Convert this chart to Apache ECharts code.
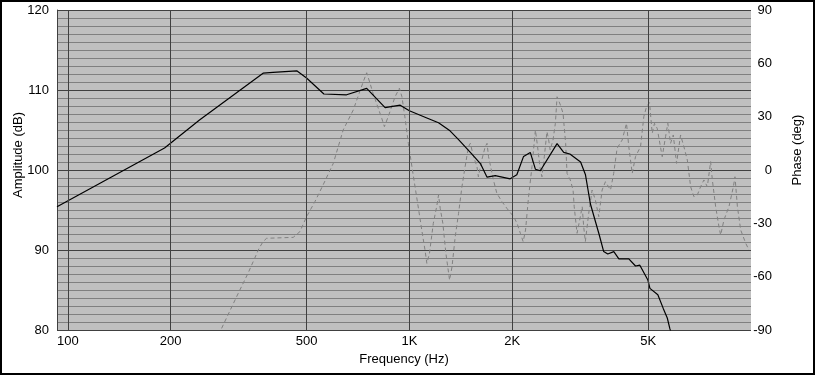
<!DOCTYPE html>
<html>
<head>
<meta charset="utf-8">
<script src="https://cdn.jsdelivr.net/npm/echarts@6/dist/echarts.min.js"></script>
<title>Amplitude / Phase</title>
<style>
  html, body { margin: 0; padding: 0; background: #fff; }
  #main { width: 815px; height: 375px; }
</style>
</head>
<body>
<div id="main"></div>
<script>
// frequency response
var ampFreq = [93, 192, 243, 373, 399, 468, 500, 562, 655, 750, 849, 940, 1000, 1125, 1217, 1315,
  1393, 1508, 1614, 1688, 1784, 1973, 2063, 2159, 2259, 2338, 2417, 2706, 2830, 2950, 3171, 3277,
  3388, 3430, 3590, 3705, 3808, 3967, 4104, 4389, 4591, 4727, 4990, 5060, 5337, 5535, 5688, 5785, 5850];
var ampDb = [95.4, 102.75, 106.25, 112.1, 112.2, 112.4, 111.5, 109.5, 109.4, 110.2, 107.8, 108.1, 107.4, 106.5, 105.9, 104.9,
  103.8, 102.2, 100.8, 99.1, 99.3, 98.9, 99.4, 101.7, 102.2, 100.1, 99.9, 103.3, 102.2, 102.0, 101.0, 99.4,
  95.75, 95.5, 92.0, 89.8, 89.5, 89.8, 88.9, 88.9, 88.0, 88.1, 86.25, 85.2, 84.4, 82.7, 81.5, 80.2, 79.5];

var phaseFreq = [282, 312, 337, 363, 373, 382, 457, 478, 500, 529, 559, 599, 640, 685, 733, 750, 767, 783, 830, 845,
  867, 908, 935, 951, 970, 993, 1028, 1063, 1087, 1111, 1125, 1145, 1175, 1202, 1217, 1231, 1253, 1279, 1311, 1333,
  1362, 1393, 1425, 1456, 1489, 1508, 1541, 1577, 1592, 1629, 1667, 1688, 1705, 1762, 1803, 1866, 1930, 2020, 2066, 2113,
  2153, 2188, 2233, 2285, 2338, 2373, 2417, 2444, 2483, 2528, 2557, 2583, 2633, 2675, 2706, 2767, 2817, 2867, 2894, 2958,
  3014, 3037, 3096, 3152, 3205, 3238, 3274, 3349, 3427, 3503, 3584, 3666, 3749, 3879, 3963, 4056, 4197, 4321, 4388, 4490,
  4591, 4749, 4856, 4945, 5047, 5138, 5218, 5314, 5497, 5622, 5709, 5815, 5922, 6055, 6220, 6362, 6510, 6657, 6805, 6963,
  7120, 7280, 7450, 7618, 7706, 7880, 8058, 8150, 8333, 8620, 8880, 8977, 9124, 9329, 9650, 9866];
var phaseDeg = [-89.1, -71.3, -58.1, -44.1, -40.3, -38.4, -37.9, -34.7, -26.3, -17.8, -8.4, 3.8, 22.5, 33.75, 49.7, 54.7, 48.8, 43.1, 29.1, 24.4,
  30, 41.2, 46, 41.2, 30, 15, -3.8, -21.6, -33.75, -45, -52.5, -46.9, -30, -20.6, -14.1, -21.6, -30, -46.9, -61.9, -54.4,
  -37.5, -24.4, -9.4, 1.9, 13.1, 15, 7.5, 1.9, -3.8, 5.6, 13.1, 15, 7.5, -5.6, -13.1, -17.8, -21.6, -26.3, -30, -35.6,
  -40.3, -33.75, -15, 1.9, 22.5, 13.1, 0, -3.8, 7.5, 21.6, 16.9, 11.25, 16.9, 26.25, 41.2, 36.6, 31.9, 15, -1.9, -5.6,
  -11.25, -20.6, -35.6, -28.1, -20.6, -31.9, -40.3, -24.4, -11.25, -16.9, -26.25, -11.25, -6.6, -11.25, -1.9, 12.2, 16.9, 26.25, 13.1, -1.9,
  7.5, 13.1, 30, 35.6, 37.9, 20.6, 26.25, 23.4, 7.5, 18.75, 26.25, 15, 19.7, 3.75, 19.7, 13.1, 5.6, -9.4, -15, -14.1,
  -9.4, -5.6, -9.4, 4.7, -5.6, -20.6, -31.9, -36.6, -28.1, -20.6, -9.4, -3.8, -20.6, -33.75, -41.2, -45];

var xTicks = [100, 200, 500, 1000, 2000, 5000];
var xTickLabels = ['100', '200', '500', '1K', '2K', '5K'];

function zip(a, b) {
  var out = [];
  for (var i = 0; i < a.length; i++) out.push([a[i], b[i]]);
  return out;
}

var font = 'Liberation Sans, Arial, sans-serif';
var myChart = echarts.init(document.getElementById('main'));

var option = {
  animation: false,
  textStyle: { fontFamily: font },
  grid: { left: 57, right: 64, top: 10, bottom: 45, show: true, backgroundColor: '#c0c0c0', borderWidth: 0 },
  xAxis: {
    type: 'log', logBase: 10, min: 93, max: 10000,
    axisLine: { show: true, lineStyle: { color: '#ffffff', width: 1 } },
    axisTick: { show: false }, axisLabel: { show: false }, splitLine: { show: false },
    name: 'Frequency (Hz)', nameLocation: 'middle', nameGap: 23,
    nameTextStyle: { color: '#000', fontSize: 13, fontFamily: font }
  },
  yAxis: [
    {
      type: 'value', position: 'left', min: 80, max: 120, interval: 10, z: 3,
      axisLine: { show: true, lineStyle: { color: '#404040' } },
      axisTick: { show: false },
      axisLabel: { color: '#000', fontSize: 13, margin: 8, fontFamily: font },
      splitLine: { show: true, lineStyle: { color: '#404040', width: 1 } }
    },
    {
      type: 'value', position: 'right', min: -90, max: 90, interval: 30, z: 3,
      axisLine: { show: true, lineStyle: { color: '#ffffff' } },
      axisTick: { show: false },
      axisLabel: { color: '#000', fontSize: 13, margin: 21, align: 'right', fontFamily: font },
      splitLine: { show: false }
    },
    {
      type: 'value', position: 'left', min: 80, max: 120, interval: 1, z: 1,
      axisLine: { show: false }, axisTick: { show: false }, axisLabel: { show: false },
      splitLine: { show: true, lineStyle: { color: '#808080', width: 1 } }
    }
  ],
  graphic: [
    { type: 'text', x: 18, y: 155, rotation: Math.PI / 2,
      style: { text: 'Amplitude (dB)', fill: '#000', font: '13px ' + font, align: 'center', verticalAlign: 'middle' } },
    { type: 'text', x: 797, y: 150, rotation: Math.PI / 2,
      style: { text: 'Phase (deg)', fill: '#000', font: '13px ' + font, align: 'center', verticalAlign: 'middle' } },
    { type: 'rect', shape: { x: 1, y: 1, width: 813, height: 373 },
      style: { fill: 'none', stroke: '#000', lineWidth: 2 }, z: 100 }
  ],
  series: [
    {
      name: 'Phase', type: 'line', yAxisIndex: 1, showSymbol: false, z: 3,
      data: zip(phaseFreq, phaseDeg),
      lineStyle: { color: '#808080', width: 1, type: [4, 3] },
      markLine: {
        silent: true, symbol: 'none', animation: false,
        lineStyle: { color: '#404040', width: 1, type: 'solid' },
        label: {
          show: true, position: 'start', distance: 5, color: '#000', fontSize: 13, fontFamily: font,
          formatter: function (p) { return xTickLabels[xTicks.indexOf(p.value)]; }
        },
        data: xTicks.map(function (v) { return { xAxis: v }; })
      }
    },
    {
      name: 'Amplitude', type: 'line', yAxisIndex: 0, showSymbol: false, z: 4,
      data: zip(ampFreq, ampDb),
      lineStyle: { color: '#000', width: 1.2 }
    }
  ]
};

myChart.setOption(option);
</script>
</body>
</html>
